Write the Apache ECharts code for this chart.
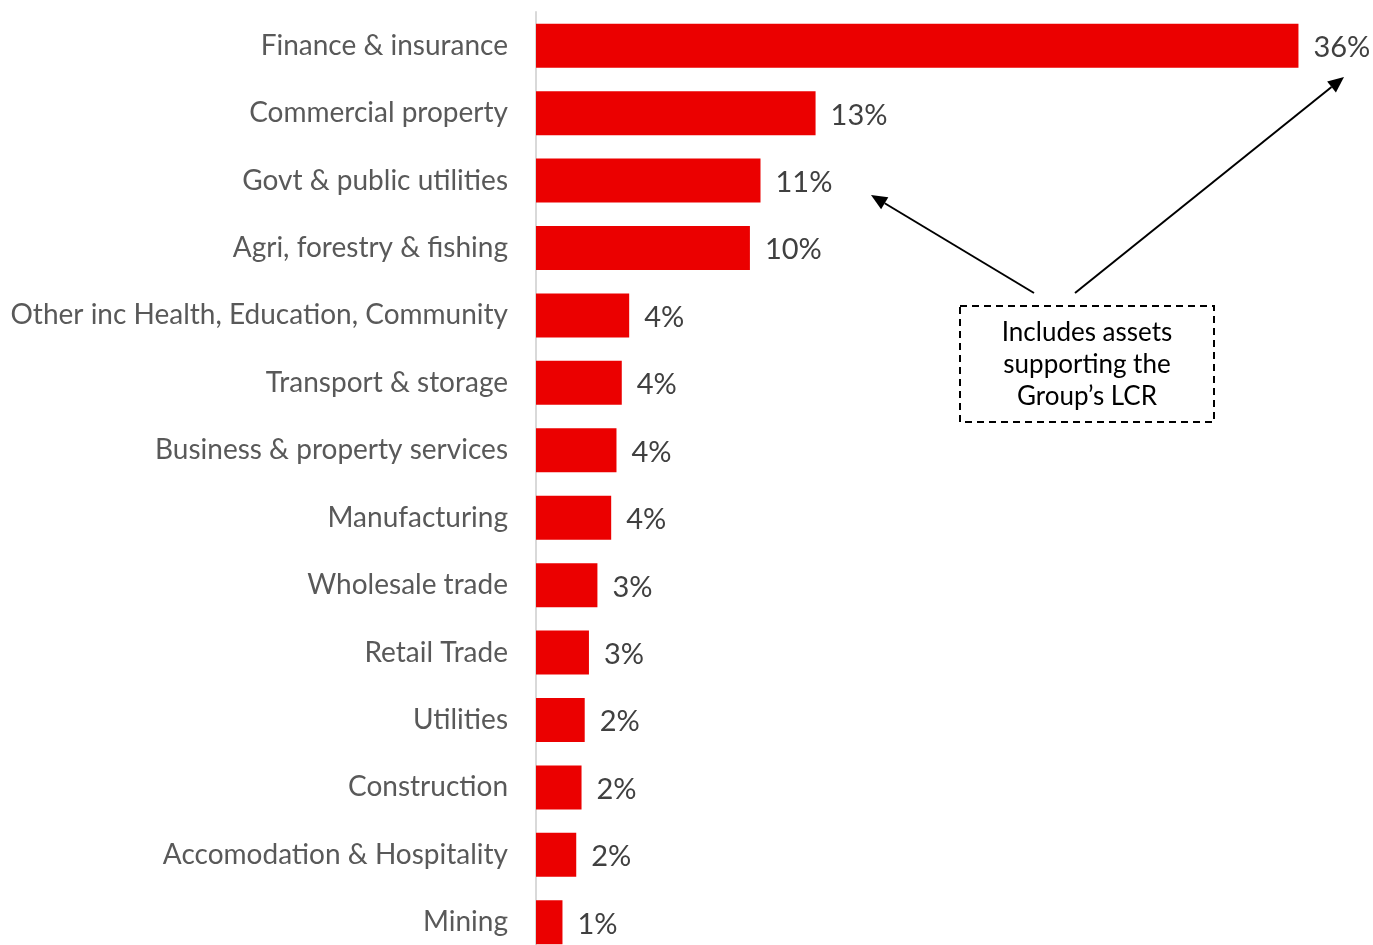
<html lang="en">
<head>
	<meta charset="UTF-8">
	<script src="https://cdn.jsdelivr.net/npm/echarts@6/dist/echarts.min.js"></script>
	<title>Sector exposure</title>
</head>
<body style="margin:0">
<div id="pic" style="width:1373px;height:945px"></div>
</body>
<script>
	"use strict";

	const cats=["Finance & insurance","Commercial property","Govt & public utilities","Agri, forestry & fishing",
		"Other inc Health, Education, Community","Transport & storage","Business & property services","Manufacturing",
		"Wholesale trade","Retail Trade","Utilities","Construction","Accomodation & Hospitality","Mining"];
	const vals=[36.0,13.2,10.6,10.1,4.4,4.05,3.8,3.55,2.9,2.5,2.3,2.15,1.9,1.25];
	const tags=["36%","13%","11%","10%","4%","4%","4%","4%","3%","3%","2%","2%","2%","1%"];
	const note="Includes assets\nsupporting the\nGroup’s LCR";

	const fnt="Lato, 'Open Sans', sans-serif";

	function arrow(x1,y1,x2,y2)
	{
		let a=Math.atan2(y2-y1,x2-x1),L=16,W=7;
		let bx=x2-L*Math.cos(a),by=y2-L*Math.sin(a);
		let px=-Math.sin(a)*W,py=Math.cos(a)*W;
		return [
			{type:"line",shape:{x1:x1,y1:y1,x2:bx,y2:by},style:{stroke:"#000",lineWidth:2}},
			{type:"polygon",shape:{points:[[x2,y2],[bx+px,by+py],[bx-px,by-py]]},style:{fill:"#000"}}
		];
	}

	let pic=echarts.init(document.getElementById("pic"));
	let option=
		{
			animation:false,
			grid:{left:536,width:826,top:12,height:944,containLabel:false,outerBoundsMode:"none"},
			xAxis:{type:"value",min:0,max:39,show:false},
			yAxis:{
				type:"category",inverse:true,data:cats,
				axisLine:{show:true,lineStyle:{color:"#d9d9d9",width:2}},
				axisTick:{show:false},
				axisLabel:{color:"#595959",fontSize:28,fontFamily:fnt,margin:28}
			},
			series:[{
				type:"bar",
				data:vals,
				barWidth:44,
				itemStyle:{color:"#eb0000"},
				label:{
					show:true,position:"right",distance:15,offset:[0,2],
					color:"#404040",fontSize:29,fontFamily:fnt,
					formatter:p=>tags[p.dataIndex]
				}
			}],
			graphic:[
				{
					type:"rect",shape:{x:960,y:306,width:254,height:116},
					style:{fill:"none",stroke:"#000",lineWidth:2,lineDash:[7,5]}
				},
				{
					type:"text",x:1087,y:365,
					style:{text:note,fill:"#000",font:"26px "+fnt,align:"center",verticalAlign:"middle",lineHeight:32}
				}
			].concat(arrow(1034,293,871,195),arrow(1075,293,1344,77))
		};
	pic.setOption(option);
</script>
</html>
